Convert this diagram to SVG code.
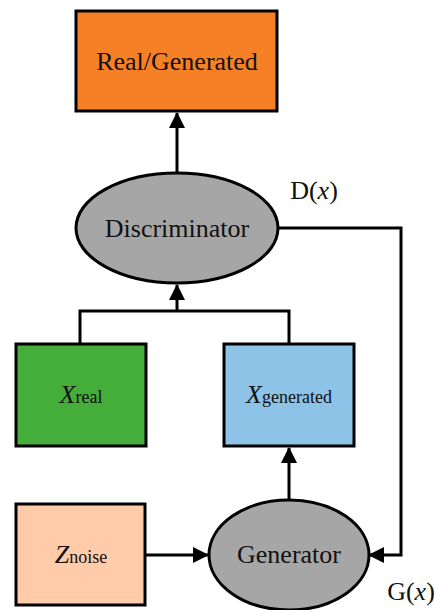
<svg xmlns="http://www.w3.org/2000/svg" width="435" height="610" viewBox="0 0 435 610">
<style>
.n{stroke:#000;stroke-width:3}
.t{font-family:"Liberation Serif","Times New Roman",serif;font-size:26px;fill:#111;text-anchor:middle}
.s{font-size:18px;font-style:normal}
.i{font-style:italic}
.c{fill:none;stroke:#000;stroke-width:3}
</style>
<defs>
<marker id="ah" markerWidth="16" markerHeight="16" refX="15" refY="8" orient="auto" markerUnits="userSpaceOnUse">
<path d="M0,0 L16,8 L0,16 Z" fill="#000"/>
</marker>
</defs>
<g id="connectors">
<path class="c" d="M177,173 V113" marker-end="url(#ah)"/>
<path class="c" d="M80,344 V311 H289 V344"/>
<path class="c" d="M177,311 V285" marker-end="url(#ah)"/>
<path class="c" d="M289,499 V448" marker-end="url(#ah)"/>
<path class="c" d="M145,555 H208" marker-end="url(#ah)"/>
<path class="c" d="M278,228 H401 V555 H369" marker-end="url(#ah)"/>
</g>
<g id="real-generated">
<rect class="n" x="76" y="11" width="201" height="100" fill="#F58025"/>
<text class="t" x="177" y="70">Real/Generated</text>
</g>
<g id="discriminator">
<ellipse class="n" cx="177" cy="228" rx="101" ry="55" fill="#A6A6A6"/>
<text class="t" x="177" y="237">Discriminator</text>
</g>
<g id="dx-label">
<text class="t" x="314" y="199">D(<tspan class="i">x</tspan>)</text>
</g>
<g id="x-real">
<rect class="n" x="16" y="344" width="130" height="102" fill="#45AD3A"/>
<text class="t" x="81" y="403"><tspan class="i">X</tspan><tspan class="s">real</tspan></text>
</g>
<g id="x-generated">
<rect class="n" x="224" y="344" width="130" height="102" fill="#8DC3E6"/>
<text class="t" x="289" y="403"><tspan class="i">X</tspan><tspan class="s">generated</tspan></text>
</g>
<g id="z-noise">
<rect class="n" x="16" y="504" width="129" height="101" fill="#FFCBA8"/>
<text class="t" x="81" y="563"><tspan class="i">Z</tspan><tspan class="s">noise</tspan></text>
</g>
<g id="generator">
<ellipse class="n" cx="289" cy="555" rx="80" ry="55" fill="#A6A6A6"/>
<text class="t" x="289" y="563">Generator</text>
</g>
<g id="gx-label">
<text class="t" x="411" y="600">G(<tspan class="i">x</tspan>)</text>
</g>
</svg>
